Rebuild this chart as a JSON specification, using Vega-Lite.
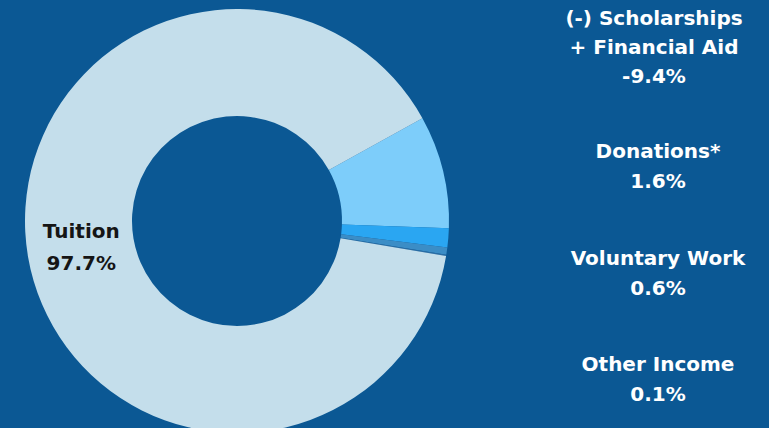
{
  "$schema": "https://vega.github.io/schema/vega-lite/v6.json",
  "width": 769,
  "height": 428,
  "autosize": {"type": "none"},
  "padding": 0,
  "background": "#0b5894",
  "view": {"stroke": null},
  "config": {"font": "DejaVu Sans"},
  "data": {
    "values": [
      {"category": "Scholarships + Financial Aid", "value": 9.4, "rank": 1, "lines": ["(-) Scholarships", "+ Financial Aid", "-9.4%"]},
      {"category": "Donations", "value": 1.6, "rank": 2, "lines": ["Donations*", "1.6%"]},
      {"category": "Voluntary Work", "value": 0.6, "rank": 3, "lines": ["Voluntary Work", "0.6%"]},
      {"category": "Other Income", "value": 0.1, "rank": 4, "lines": ["Other Income", "0.1%"]},
      {"category": "Tuition", "value": 97.7, "rank": 5, "lines": ["Tuition", "97.7%"]}
    ]
  },
  "layer": [
    {
      "mark": {"type": "arc", "outerRadius": 212, "innerRadius": 105, "x": 237, "y": 221, "stroke": null},
      "encoding": {
        "theta": {"field": "value", "type": "quantitative", "stack": true, "scale": {"range": [1.0647, 7.3479]}},
        "order": {"field": "rank", "type": "quantitative"},
        "color": {
          "field": "category", "type": "nominal", "legend": null,
          "scale": {
            "domain": ["Scholarships + Financial Aid", "Donations", "Voluntary Work", "Other Income", "Tuition"],
            "range": ["#7dcdfa", "#2aa6f2", "#3b8dc6", "#2d6fa6", "#c4deeb"]
          }
        }
      }
    },
    {
      "mark": {"type": "text", "radius": 158, "x": 237, "y": 221, "dy": -16, "fontSize": 20, "fontWeight": "bold", "lineHeight": 32, "baseline": "middle", "align": "center", "color": "#151515"},
      "encoding": {
        "theta": {"field": "value", "type": "quantitative", "stack": true},
        "order": {"field": "rank", "type": "quantitative"},
        "text": {"condition": {"test": "datum.category === 'Tuition'", "field": "lines"}, "value": ""}
      }
    },
    {
      "transform": [{"filter": "datum.category === 'Scholarships + Financial Aid'"}],
      "mark": {"type": "text", "x": 654, "dy": -27, "fontSize": 20, "fontWeight": "bold", "lineHeight": 29, "baseline": "middle", "align": "center", "color": "#ffffff"},
      "encoding": {
        "y": {
          "field": "category", "type": "nominal", "axis": null,
          "scale": {"type": "point", "domain": ["Scholarships + Financial Aid", "Donations", "Voluntary Work", "Other Income"], "range": [45.5, 365], "padding": 0}
        },
        "text": {"field": "lines"}
      }
    },
    {
      "transform": [{"filter": "datum.category !== 'Tuition' && datum.category !== 'Scholarships + Financial Aid'"}],
      "mark": {"type": "text", "x": 658, "fontSize": 20, "fontWeight": "bold", "lineHeight": 30, "baseline": "middle", "align": "center", "color": "#ffffff"},
      "encoding": {
        "y": {"field": "category", "type": "nominal", "axis": null},
        "text": {"field": "lines"}
      }
    }
  ]
}
